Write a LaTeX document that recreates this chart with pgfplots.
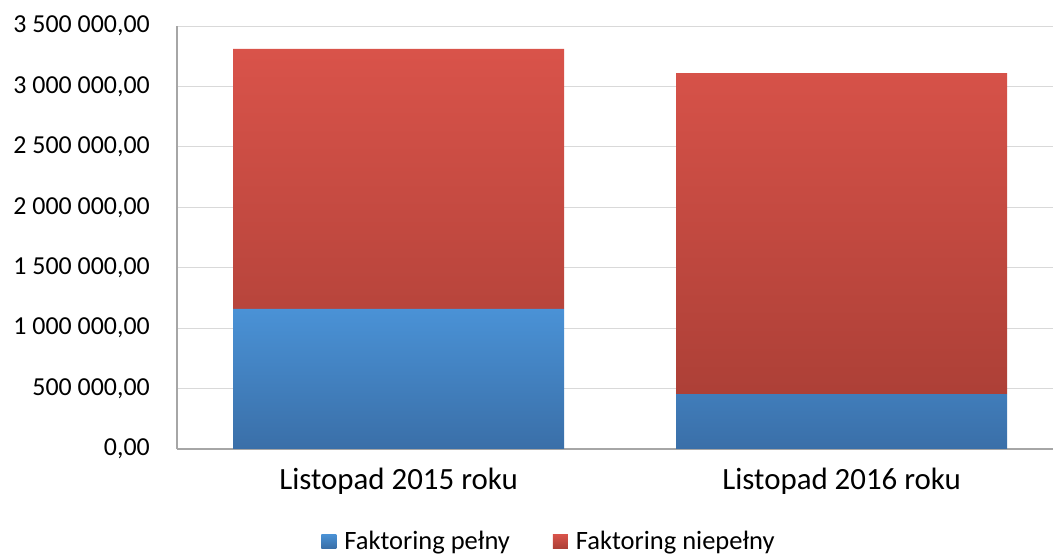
\documentclass[border=0pt]{standalone}
\usepackage{pgfplots}
\pgfplotsset{compat=1.18}
\usepackage{fontspec}
\setmainfont{Carlito}
\definecolor{bluetop}{HTML}{4A92D6}
\definecolor{bluebot}{HTML}{3A6FA8}
\definecolor{redtop}{HTML}{D9534A}
\definecolor{redbot}{HTML}{AD4037}
\definecolor{gridc}{HTML}{D9D9D9}
\definecolor{axisc}{HTML}{A6A6A6}
\begin{document}
\begin{tikzpicture}
\useasboundingbox (0bp,0bp) rectangle (1053bp,554bp);
\begin{axis}[
  at={(177bp,105bp)}, anchor=south west,
  scale only axis, width=876bp, height=423bp,
  xmin=-0.5, xmax=1.477, ymin=0, ymax=3500000,
  ybar stacked, bar width=0.747,
  axis x line=bottom, axis y line=left,
  axis line style={draw=axisc, line width=1.2pt, -},
  major tick length=0pt,
  xtick={0,1},
  xticklabels={Listopad 2015 roku, Listopad 2016 roku},
  ytick={0,500000,1000000,1500000,2000000,2500000,3000000,3500000},
  yticklabels={{0,00},{500 000,00},{1 000 000,00},{1 500 000,00},{2 000 000,00},{2 500 000,00},{3 000 000,00},{3 500 000,00}},
  scaled y ticks=false,
  ymajorgrids, grid style={draw=gridc, line width=1pt},
  yticklabel style={font=\fontsize{26}{30}\selectfont, xshift=-27bp, inner sep=0pt},
  xticklabel style={font=\fontsize{31}{36}\selectfont, yshift=-19bp, inner sep=0pt},
  legend columns=2,
  legend style={draw=none, at={(0.4247,-0.2175)}, anchor=center,
    font=\fontsize{26.6}{30}\selectfont, inner sep=0pt,
    /tikz/every odd column/.append style={column sep=6bp},
    /tikz/every even column/.append style={column sep=41bp}},
  legend image code/.code={\path[#1, draw=none] (0bp,-7bp) rectangle (15bp,7bp);},
  legend cell align=left,
]
\addplot[draw=none, top color=bluetop, bottom color=bluebot] coordinates {(0,1160000) (1,455000)};
\addplot[draw=none, top color=redtop, bottom color=redbot] coordinates {(0,2150000) (1,2655000)};
\legend{Faktoring pełny, Faktoring niepełny}
\end{axis}
\end{tikzpicture}
\end{document}
